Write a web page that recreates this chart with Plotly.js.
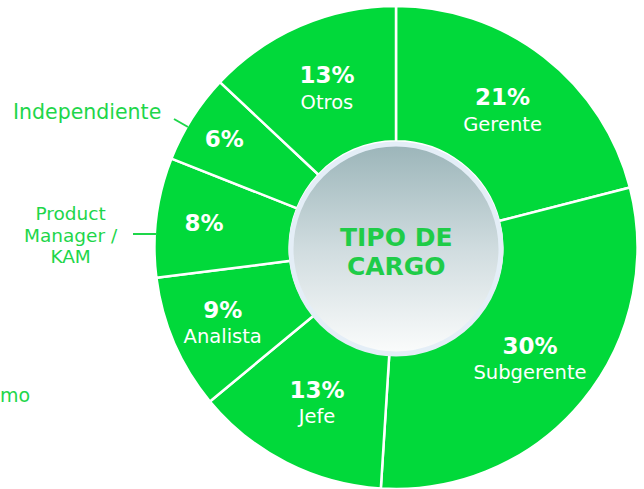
<!DOCTYPE html>
<html>
<head>
<meta charset="utf-8">
<script src="https://cdn.plot.ly/plotly-3.0.1.min.js"></script>
<style>html,body{margin:0;padding:0;background:#fff;}#chart{width:644px;height:489px;}</style>
</head>
<body>
<div id="chart"></div>
<script>
// Data
const categories = ["Gerente", "Subgerente", "Jefe", "Analista", "Product Manager / KAM", "Independiente", "Otros"];
const shares = [21, 30, 13, 9, 8, 6, 13];
const showNameInside = [true, true, true, true, false, false, true];
const independienteLabel = ["Independiente"];
const pmLabelLines = ["Product", "Manager /", "KAM"];
const cutLabel = ["mo"];
const centerTitleLines = ["TIPO DE", "CARGO"];

const GREEN = "#01d93a";
const LABEL_GREEN = "#1ed64a";
const FONT = "DejaVu Sans, sans-serif";
const W = 644, H = 489;
const px = v => v / W;
const py = v => (H - v) / H;

const templates = showNameInside.map(s => s
  ? "<span style='font-size:23px'><b>%{value}%</b></span><br>%{label}"
  : "<span style='font-size:23px'><b>%{value}%</b></span>");

const trace = {
  type: "pie",
  labels: categories,
  values: shares,
  sort: false,
  direction: "clockwise",
  rotation: 0,
  hole: 0.44,
  domain: {x: [154 / W, 638 / W], y: [0, 483 / H]},
  marker: {colors: categories.map(() => GREEN), line: {color: "#ffffff", width: 2.5}},
  texttemplate: templates,
  textposition: "inside",
  insidetextorientation: "horizontal",
  textfont: {family: FONT, size: 19.5, color: "#ffffff"},
  hoverinfo: "label+percent",
  showlegend: false
};

const svg = "<svg xmlns='http://www.w3.org/2000/svg' width='216' height='216'>" +
  "<defs><linearGradient id='g' x1='0' y1='0' x2='0' y2='1'>" +
  "<stop offset='0' stop-color='#9bb5b9'/><stop offset='0.5' stop-color='#d0dcdf'/><stop offset='1' stop-color='#fbfcfc'/>" +
  "</linearGradient></defs>" +
  "<circle cx='108' cy='108' r='105' fill='url(#g)' stroke='#e4eef7' stroke-width='5'/></svg>";
const svgUri = "data:image/svg+xml;charset=utf-8," + encodeURIComponent(svg);

function ann(text, x, y, size, color, anchor) {
  return {text: text, xref: "paper", yref: "paper",
    x: px(x), y: py(y), showarrow: false, font: {family: FONT, size: size, color: color},
    xanchor: anchor || "center", yanchor: "middle", borderpad: 0};
}

// multi-line label: controlled line spacing (base size), glyph size via span
const pmText = pmLabelLines.map(t => "<span style='font-size:18.5px'>" + t + "</span>").join("<br>");
const titleText = centerTitleLines.map(t => "<span style='font-size:25px'><b>" + t + "</b></span>").join("<br>");

const annotations = [
  ann(titleText, 396, 252, 22.5, "#1fcc48", "center"),
  ann(independienteLabel[0], 87, 112, 20.5, LABEL_GREEN),
  ann(pmText, 70.5, 235, 16.6, LABEL_GREEN),
  ann(cutLabel[0], -1, 395, 19, LABEL_GREEN, "left")
];

const layout = {
  width: W, height: H,
  margin: {l: 0, r: 0, t: 0, b: 0},
  paper_bgcolor: "#ffffff",
  plot_bgcolor: "#ffffff",
  images: [{
    source: svgUri, xref: "paper", yref: "paper",
    x: px(288), y: py(141), sizex: 216 / W, sizey: 216 / H,
    xanchor: "left", yanchor: "top", sizing: "stretch", layer: "above"
  }],
  annotations: annotations,
  shapes: [
    {type: "line", xref: "paper", yref: "paper", x0: px(174), y0: py(119), x1: px(188), y1: py(127),
     line: {color: LABEL_GREEN, width: 2}},
    {type: "line", xref: "paper", yref: "paper", x0: px(133), y0: py(234), x1: px(157), y1: py(234),
     line: {color: LABEL_GREEN, width: 2}}
  ]
};

Plotly.newPlot("chart", [trace], layout, {displayModeBar: false, staticPlot: true});
</script>
</body>
</html>
